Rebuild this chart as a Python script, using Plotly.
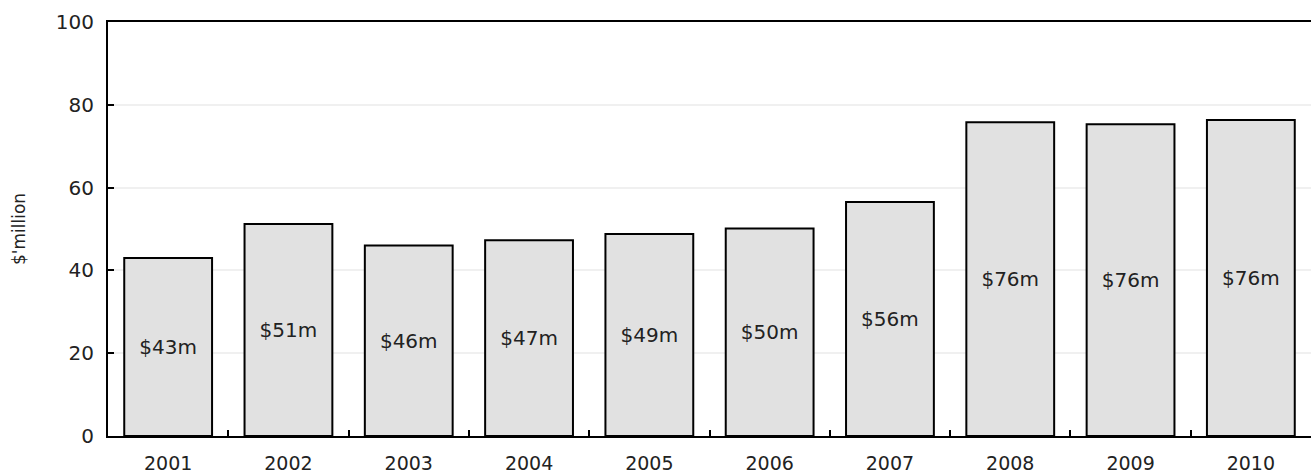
import plotly.graph_objects as go

years = ["2001", "2002", "2003", "2004", "2005", "2006", "2007", "2008", "2009", "2010"]
values = [43.0, 51.2, 46.0, 47.3, 48.8, 50.1, 56.5, 75.8, 75.3, 76.3]
labels = ["$43m", "$51m", "$46m", "$47m", "$49m", "$50m", "$56m", "$76m", "$76m", "$76m"]
y_ticks = [0, 20, 40, 60, 80, 100]

FONT = "DejaVu Sans"

fig = go.Figure(go.Bar(
    x=years, y=values, text=labels,
    textposition="inside", insidetextanchor="middle", textangle=0,
    textfont=dict(family=FONT, size=20, color="#222"),
    marker=dict(color="#e1e1e1", line=dict(color="black", width=2)),
    cliponaxis=False,
))

fig.update_layout(
    width=1311, height=476,
    margin=dict(l=108, r=0, t=22, b=40),
    plot_bgcolor="white", paper_bgcolor="white",
    bargap=0.27, showlegend=False,
    font=dict(family=FONT, size=20, color="#222"),
    uniformtext=dict(mode=False),
)
fig.update_xaxes(
    type="category", showline=True, linecolor="black", linewidth=2, mirror=True,
    ticks="inside", ticklen=6, tickwidth=2, tickcolor="black", tickson="boundaries",
    showgrid=False, ticklabelstandoff=9, tickfont=dict(size=19), automargin=False,
)
fig.update_yaxes(
    range=[0, 100], tickvals=y_ticks, showline=True, linecolor="black", linewidth=2,
    ticks="inside", ticklen=6, tickwidth=2, tickcolor="black",
    showgrid=True, gridcolor="#f0f0f0", gridwidth=2, zeroline=False,
    title=dict(text="$'million", standoff=26, font=dict(size=17)),
    ticklabelstandoff=8, tickfont=dict(size=20), automargin=False,
)
fig.write_html("out.html", config={"displayModeBar": False},
               post_script="document.body.style.margin='0';document.body.style.overflow='hidden';")
